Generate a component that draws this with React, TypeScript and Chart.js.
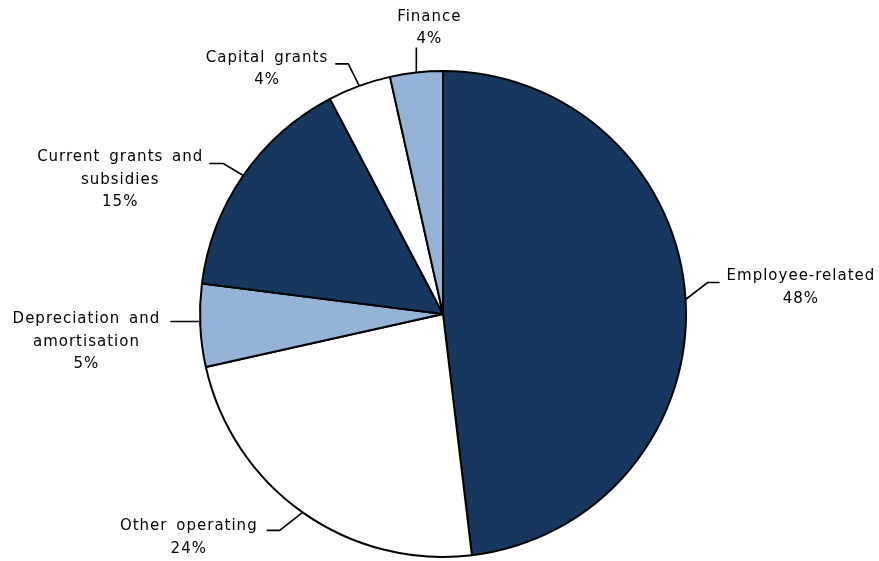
import React, { useEffect, useRef } from "react";
import { Chart, registerables } from "chart.js";

Chart.register(...registerables);

const categories = [
  "Employee-related",
  "Other operating",
  "Depreciation and amortisation",
  "Current grants and subsidies",
  "Capital grants",
  "Finance",
];
const values = [48.1, 23.4, 5.5, 15.3, 4.2, 3.5];
const percentLabels = ["48%", "24%", "5%", "15%", "4%", "4%"];
const labelLines = [
  ["Employee-related"],
  ["Other operating"],
  ["Depreciation and", "amortisation"],
  ["Current grants and", "subsidies"],
  ["Capital grants"],
  ["Finance"],
];
const sliceColors = ["#17375E", "#FFFFFF", "#95B3D7", "#17375E", "#FFFFFF", "#95B3D7"];

// leader layout: elbow offset from anchor, end offset from elbow, side, first-line y offset from end
const leaderLayout = [
  { ex: 22, ey: -17, hx: 12, side: "right", gap: 7, ty: -6 },
  { ex: -23, ey: 18, hx: -13, side: "left", gap: 9, ty: -4 },
  { ex: 0, ey: -4, hx: -30, side: "left", gap: 10, ty: -2 },
  { ex: -20, ey: -12, hx: -14, side: "left", gap: 6, ty: -6 },
  { ex: -11, ey: -22, hx: -13, side: "left", gap: 7, ty: -6 },
  { ex: 0, ey: -25, hx: 0, side: "top", gap: 13, ty: -8 },
];

const FONT = '15px "DejaVu Sans", Verdana, sans-serif';
const LINE_H = 22.5;

const leaderPlugin = {
  id: "leaderLabels",
  afterDatasetsDraw(chart: any) {
    const ctx = chart.ctx;
    const meta = chart.getDatasetMeta(0);
    ctx.save();
    ctx.font = FONT;
    try {
      (ctx as any).letterSpacing = "1px";
      (ctx as any).wordSpacing = "3px";
    } catch (e) {}
    meta.data.forEach((arc: any, i: number) => {
      const p = arc.getProps(["x", "y", "startAngle", "endAngle", "outerRadius"], true);
      const mid = (p.startAngle + p.endAngle) / 2;
      const ax = p.x + Math.cos(mid) * p.outerRadius;
      const ay = p.y + Math.sin(mid) * p.outerRadius;
      const L = leaderLayout[i];
      const bx = ax + L.ex;
      const by = ay + L.ey;
      const cx = bx + L.hx;
      const cy = by;
      ctx.strokeStyle = "#000";
      ctx.lineWidth = 1.6;
      ctx.beginPath();
      ctx.moveTo(ax, ay);
      ctx.lineTo(bx, by);
      ctx.lineTo(cx, cy);
      ctx.stroke();

      const lines = [...labelLines[i], percentLabels[i]];
      const widths = lines.map((t) => ctx.measureText(t).width);
      const maxW = Math.max(...widths);
      let centerX: number;
      let firstY: number;
      if (L.side === "right") {
        centerX = cx + L.gap + maxW / 2;
        firstY = cy + L.ty;
      } else if (L.side === "left") {
        centerX = cx - L.gap - maxW / 2;
        firstY = cy + L.ty;
      } else {
        centerX = cx + L.gap;
        firstY = cy + L.ty - (lines.length - 1) * LINE_H;
      }
      ctx.fillStyle = "#000";
      ctx.textAlign = "center";
      ctx.textBaseline = "middle";
      lines.forEach((t, k) => {
        ctx.fillText(t, centerX, firstY + k * LINE_H);
      });
    });
    ctx.restore();
  },
};

export default function App() {
  const ref = useRef<HTMLCanvasElement | null>(null);
  useEffect(() => {
    if (!ref.current) return;
    const chart = new Chart(ref.current, {
      type: "pie",
      data: {
        labels: categories,
        datasets: [
          {
            data: values,
            backgroundColor: sliceColors,
            borderColor: "#000000",
            borderWidth: 2,
            borderAlign: "center",
          } as any,
        ],
      },
      options: {
        responsive: false,
        animation: false,
        layout: { padding: { top: 70, bottom: 3, left: 199, right: 192 } },
        plugins: {
          legend: { display: false },
          tooltip: { enabled: false },
        },
      },
      plugins: [leaderPlugin],
    });
    return () => chart.destroy();
  }, []);
  return (
    <div style={{ position: "absolute", left: 0, top: 0, width: 879, height: 561, background: "#fff" }}>
      <canvas ref={ref} width={879} height={561} style={{ display: "block" }} />
    </div>
  );
}
